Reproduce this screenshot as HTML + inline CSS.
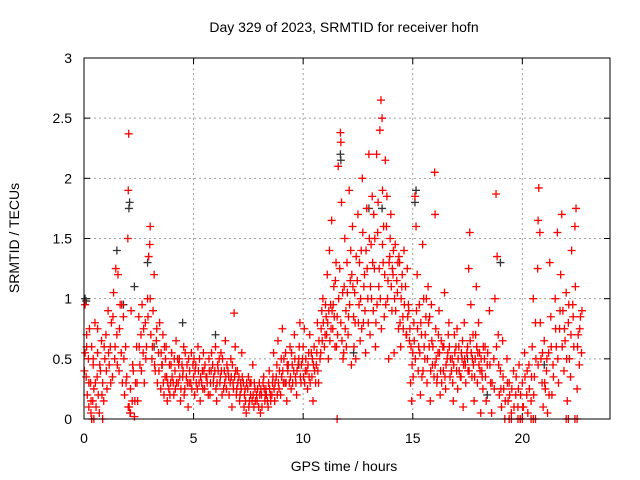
<!DOCTYPE html>
<html><head><meta charset="utf-8"><style>
html,body{margin:0;padding:0;background:#fff;}
svg{display:block;font-family:"Liberation Sans",sans-serif;}
</style></head><body>
<svg id="chart" width="640" height="480" viewBox="0 0 640 480">
<rect x="0" y="0" width="640" height="480" fill="#fff"/>
<text x="344" y="32" font-size="14" text-anchor="middle">Day 329 of 2023, SRMTID for receiver hofn</text>
<text x="344" y="471" font-size="14" text-anchor="middle">GPS time / hours</text>
<text transform="translate(19,238) rotate(-90)" font-size="14" text-anchor="middle">SRMTID / TECUs</text>
<g id="grid"></g>
<g id="axes"></g>
<g id="black-series"></g>
<g id="red-series"></g>
<rect x="84" y="58" width="526" height="361" fill="none" stroke="#000" stroke-width="1"/>
</svg>
<script>
const xTicks=[0,5,10,15,20];
const yTicks=[0,0.5,1,1.5,2,2.5,3];
const yTickLabels=["0","0.5","1","1.5","2","2.5","3"];
const redHours=[0.05,0.05,0.1,0.12,0.15,0.2,0.22,0.25,0.3,0.32,0.35,0.4,0.42,0.45,0.5,0.55,0.6,0.62,0.65,0.7,0.75,0.8,0.85,0.9,0.95,1.0,1.05,1.1,1.15,1.2,1.25,1.3,1.35,1.4,1.45,1.5,1.55,1.6,1.65,1.7,1.75,1.8,1.85,1.9,1.95,2.0,2.02,2.04,2.06,2.1,2.12,2.15,2.2,2.25,2.3,2.35,2.4,2.45,2.5,2.55,2.6,2.65,2.7,2.75,2.8,2.85,2.9,2.95,3.0,3.02,3.05,3.1,3.15,3.2,3.25,3.3,3.35,3.4,3.45,3.5,3.55,3.6,3.65,3.7,3.75,3.8,3.9,3.95,4.0,4.1,4.15,4.2,4.3,4.35,4.4,4.5,4.55,4.6,4.7,4.75,4.8,4.9,5.0,5.05,5.1,5.2,5.25,5.3,5.4,5.45,5.5,5.6,5.7,5.75,5.8,5.9,6.0,6.05,6.1,6.2,6.25,6.3,6.4,6.45,6.5,6.6,6.7,6.75,6.8,6.85,6.9,6.95,7.0,7.1,7.15,7.2,7.3,7.35,7.4,7.5,7.55,7.6,7.7,7.75,7.8,7.9,8.0,8.05,8.1,8.2,8.25,8.3,8.4,8.45,8.5,8.6,8.65,8.7,8.8,8.85,8.9,9.0,9.05,9.1,9.2,9.25,9.3,9.4,9.45,9.5,9.6,9.65,9.7,9.8,9.85,9.9,10.0,10.05,10.1,10.2,10.25,10.3,10.4,10.45,10.5,10.6,10.65,10.7,10.8,10.85,10.9,11.0,11.05,11.1,11.15,11.2,11.25,11.3,11.35,11.4,11.45,11.5,11.55,11.6,11.7,11.72,11.75,11.8,11.85,11.9,11.95,12.0,12.05,12.1,12.15,12.2,12.25,12.3,12.35,12.4,12.5,12.55,12.6,12.65,12.7,12.75,12.8,12.85,12.9,12.95,13.0,13.05,13.1,13.15,13.2,13.25,13.3,13.35,13.4,13.45,13.5,13.55,13.6,13.62,13.65,13.7,13.75,13.8,13.85,13.9,13.95,14.0,14.05,14.1,14.15,14.2,14.3,14.35,14.4,14.45,14.5,14.55,14.6,14.7,14.75,14.8,14.85,14.9,14.95,15.0,15.05,15.1,15.15,15.2,15.25,15.3,15.35,15.4,15.45,15.5,15.55,15.6,15.65,15.7,15.75,15.8,15.85,15.9,16.0,16.02,16.05,16.1,16.15,16.2,16.25,16.3,16.4,16.45,16.5,16.6,16.65,16.7,16.8,16.85,16.9,17.0,17.05,17.1,17.2,17.25,17.3,17.35,17.4,17.5,17.55,17.6,17.65,17.7,17.75,17.8,17.85,17.9,17.95,18.0,18.05,18.1,18.15,18.2,18.3,18.35,18.4,18.5,18.55,18.6,18.7,18.75,18.8,18.85,18.9,18.95,19.0,19.05,19.1,19.15,19.2,19.3,19.35,19.4,19.5,19.6,19.7,19.8,19.85,19.9,20.0,20.05,20.1,20.2,20.25,20.3,20.4,20.45,20.5,20.55,20.6,20.7,20.72,20.75,20.8,20.85,20.9,20.95,21.0,21.05,21.1,21.15,21.2,21.25,21.3,21.35,21.4,21.5,21.55,21.6,21.65,21.7,21.75,21.8,21.85,21.9,21.95,22.0,22.05,22.1,22.15,22.2,22.25,22.3,22.35,22.4,22.45,22.5,22.55,22.6,22.65,22.7,
0.35,0.45,0.85,11.55,19.4,19.5,19.8,19.9,20.0,20.4,20.5,20.6,22.0,22.1,22.4,22.5];
const redValues=[0.95,0.55,0.35,0.7,0.2,0.5,0.1,0.75,0.3,0.05,0.6,0.15,0.45,0.25,0.8,0.1,0.35,0.55,0.2,0.05,0.4,0.65,0.3,0.15,0.5,0.7,0.25,0.9,0.45,0.6,0.8,0.35,1.05,0.5,1.25,0.7,1.2,0.4,0.95,0.55,0.3,0.85,0.2,0.6,0.35,1.5,1.9,2.37,0.1,0.05,0.25,0.9,0.15,0.4,0.02,0.3,0.6,0.15,0.85,0.45,0.7,0.95,0.55,0.3,0.8,0.6,1.0,1.35,1.45,1.6,0.7,0.5,0.9,1.2,0.4,0.65,0.3,0.55,0.8,0.25,0.45,0.7,0.2,0.35,0.6,0.15,0.45,0.3,0.55,0.2,0.4,0.65,0.3,0.5,0.15,0.35,0.6,0.25,0.45,0.1,0.3,0.55,0.35,0.2,0.45,0.6,0.3,0.15,0.4,0.55,0.25,0.35,0.5,0.2,0.4,0.3,0.6,0.15,0.45,0.3,0.55,0.2,0.4,0.65,0.25,0.35,0.5,0.1,0.3,0.88,0.6,0.2,0.4,0.15,0.3,0.55,0.1,0.25,0.05,0.35,0.15,0.2,0.45,0.1,0.25,0.15,0.3,0.05,0.2,0.35,0.15,0.25,0.1,0.4,0.2,0.3,0.55,0.15,0.45,0.65,0.25,0.5,0.75,0.3,0.55,0.15,0.4,0.6,0.25,0.45,0.7,0.35,0.2,0.5,0.8,0.3,0.6,0.75,0.4,0.25,0.55,0.7,0.35,0.15,0.6,0.45,0.8,0.3,0.55,0.9,1.0,0.7,0.85,1.2,0.5,1.4,0.95,1.65,0.75,1.1,0.6,1.3,0.85,2.1,2.38,2.3,1.8,1.05,0.55,1.5,0.9,1.3,0.7,1.9,1.15,0.45,1.6,0.85,1.05,0.5,1.7,0.95,0.65,1.4,2.0,0.8,1.2,0.55,1.75,1.0,2.2,0.7,1.45,1.85,0.9,1.25,0.6,2.2,1.55,1.1,2.4,2.65,2.5,1.9,1.3,0.85,2.15,1.6,1.0,0.5,1.35,1.7,0.9,1.2,0.55,1.45,1.05,0.75,1.3,0.6,1.1,0.85,1.4,0.7,1.25,0.95,0.65,0.3,0.15,0.55,0.8,1.85,1.6,1.2,0.4,0.95,0.2,0.7,1.45,1.0,0.5,0.85,0.3,1.1,0.6,0.15,0.95,0.45,2.05,1.7,0.75,0.3,0.55,0.9,0.2,0.65,0.4,1.05,0.25,0.55,0.8,0.35,0.5,0.15,0.7,0.4,0.25,0.6,0.35,0.5,0.1,0.8,0.45,0.6,1.25,1.55,0.95,0.35,0.7,0.15,0.5,1.1,0.3,0.8,0.55,0.05,0.4,0.25,0.6,0.15,0.45,0.9,0.3,0.05,0.5,1.0,1.87,1.35,0.7,0.2,0.4,0.1,0.65,0.25,0.0,0.5,0.15,0.3,0.05,0.4,0.2,0.1,0.45,0.0,0.3,0.1,0.55,0.2,0.05,0.45,0.15,0.6,1.0,0.35,0.8,1.25,1.65,1.92,1.55,0.5,0.3,0.1,0.65,0.25,0.4,0.05,0.55,1.3,0.85,0.2,0.45,1.0,0.6,1.55,0.3,0.75,1.2,1.7,0.9,0.4,0.65,1.05,0.15,0.8,0.5,0.35,1.4,0.95,0.6,1.6,1.75,0.25,0.7,0.45,0.85,0.55,
0,0,0,0,0,0,0,0,0,0,0,0,0,0,0,0];
const redHours2=[0.02,0.12,0.22,0.32,0.42,0.52,0.62,0.72,0.82,0.92,1.02,1.12,1.22,1.32,1.42,1.52,1.62,1.72,1.82,1.92,2.02,2.12,2.22,2.32,2.42,2.52,2.62,2.72,2.82,2.92,3.02,3.12,3.22,3.32,3.42,3.52,3.62,3.72,3.82,3.92,4.02,4.12,4.22,4.32,4.42,4.52,4.62,4.72,4.82,4.92,5.02,5.12,5.22,5.32,5.42,5.52,5.62,5.72,5.82,5.92,6.02,6.12,6.22,6.32,6.42,6.52,6.62,6.72,6.82,6.92,7.02,7.12,7.22,7.32,7.42,7.52,7.62,7.72,7.82,7.92,8.02,8.12,8.22,8.32,8.42,8.52,8.62,8.72,8.82,8.92,9.02,9.12,9.22,9.32,9.42,9.52,9.62,9.72,9.82,9.92,10.02,10.12,10.22,10.32,10.42,10.52,10.62,10.72,10.82,10.92,11.02,11.12,11.22,11.32,11.42,11.52,11.62,11.72,11.82,11.92,12.02,12.12,12.22,12.32,12.42,12.52,12.62,12.72,12.82,12.92,13.02,13.12,13.22,13.32,13.42,13.52,13.62,13.72,13.82,13.92,14.02,14.12,14.22,14.32,14.42,14.52,14.62,14.72,14.82,14.92,15.02,15.12,15.22,15.32,15.42,15.52,15.62,15.72,15.82,15.92,16.02,16.12,16.22,16.32,16.42,16.52,16.62,16.72,16.82,16.92,17.02,17.12,17.22,17.32,17.42,17.52,17.62,17.72,17.82,17.92,18.02,18.12,18.22,18.32,18.42,18.52,18.62,18.72,18.82,18.92,19.02,19.12,19.22,19.32,19.42,19.52,19.62,19.72,19.82,19.92,20.02,20.12,20.22,20.32,20.42,20.52,20.62,20.72,20.82,20.92,21.02,21.12,21.22,21.32,21.42,21.52,21.62,21.72,21.82,21.92,22.02,22.12,22.22,22.32,22.42,22.52,22.62,22.72];
const redValues2=[0.4,0.6,0.3,0.15,0.5,0.3,0.75,0.45,0.2,0.6,0.4,0.55,0.3,0.85,0.6,0.45,0.75,0.95,0.5,0.3,0.1,0.05,0.45,0.15,0.3,0.6,0.4,0.75,0.5,0.85,1.0,0.6,0.45,0.75,0.4,0.55,0.3,0.5,0.3,0.2,0.35,0.5,0.3,0.45,0.25,0.4,0.55,0.3,0.4,0.25,0.5,0.3,0.4,0.35,0.25,0.45,0.3,0.4,0.55,0.35,0.25,0.4,0.35,0.5,0.3,0.45,0.2,0.35,0.25,0.4,0.3,0.2,0.35,0.2,0.3,0.1,0.3,0.2,0.15,0.25,0.2,0.1,0.25,0.2,0.3,0.15,0.35,0.3,0.2,0.4,0.35,0.5,0.3,0.45,0.35,0.3,0.5,0.4,0.6,0.45,0.35,0.5,0.45,0.3,0.5,0.4,0.55,0.65,0.75,0.8,0.95,0.8,0.65,0.9,0.85,0.6,1.0,0.8,0.5,0.75,1.05,0.95,1.2,0.6,1.35,0.8,1.0,1.55,0.9,1.25,1.5,1.0,1.7,0.8,1.8,1.0,1.45,1.2,1.85,1.3,1.1,1.4,0.9,1.3,0.8,1.2,0.95,0.7,0.9,0.6,0.35,0.5,0.75,0.55,0.35,0.6,1.0,0.8,0.4,0.6,0.45,0.35,0.55,0.3,0.6,0.45,0.7,0.5,0.3,0.55,0.75,0.4,0.55,0.45,0.3,0.4,0.65,0.5,0.35,0.6,0.45,0.5,0.6,0.35,0.55,0.45,0.3,0.25,0.6,0.45,0.25,0.35,0.15,0.3,0.2,0.25,0.1,0.35,0.25,0.2,0.1,0.35,0.4,0.25,0.35,0.2,0.5,0.45,0.8,0.55,0.3,0.5,0.2,0.6,0.35,0.75,0.5,0.9,0.6,0.75,0.5,0.95,0.7,0.85,1.1,0.6,0.75,0.9];
const redHours3=[3.57,3.67,3.77,3.87,3.97,4.07,4.17,4.27,4.37,4.47,4.57,4.67,4.77,4.87,4.97,5.07,5.17,5.27,5.37,5.47,5.57,5.67,5.77,5.87,5.97,6.07,6.17,6.27,6.37,6.47,6.57,6.67,6.77,6.87,6.97,7.07,7.17,7.27,7.37,7.47,7.57,7.67,7.77,7.87,7.97,8.07,8.17,8.27,8.37,8.47,8.57,8.67,8.77,8.87,8.97,9.07,9.17,9.27,9.37,9.47,9.57,9.67,9.77,9.87,9.97,10.07,10.17,10.27,10.37,10.47,10.57,10.67,10.77,10.87,10.97,11.07,11.17,11.27,11.37,11.47,11.57,11.67,11.77,11.87,11.97,12.07,12.17,12.27,12.37,12.47,12.57,12.67,12.77,12.87,12.97,13.07,13.17,13.27,13.37,13.47,13.57,13.67,13.77,13.87,13.97,14.07,14.17,14.27,14.37,14.47,14.57,14.67,14.77,14.87,14.97,15.07,15.17,15.27,15.37,15.47,15.57,15.67,15.77,15.87,15.97,16.07,16.17,16.27,16.37,16.47,16.57,16.67,16.77,16.87,16.97,17.07,17.17,17.27,17.37,17.47,17.57,17.67,17.77,17.87,17.97,18.07,18.17,18.27];
const redValues3=[0.45,0.6,0.35,0.25,0.45,0.3,0.25,0.5,0.35,0.45,0.2,0.35,0.5,0.3,0.45,0.4,0.25,0.5,0.3,0.4,0.35,0.2,0.3,0.45,0.4,0.3,0.5,0.4,0.25,0.35,0.4,0.3,0.45,0.35,0.25,0.35,0.25,0.3,0.15,0.25,0.3,0.15,0.3,0.2,0.1,0.25,0.3,0.2,0.15,0.25,0.2,0.25,0.35,0.3,0.2,0.4,0.3,0.45,0.3,0.55,0.4,0.3,0.45,0.35,0.5,0.3,0.4,0.35,0.55,0.45,0.3,0.4,0.5,0.65,0.6,0.7,0.9,0.75,0.95,1.15,0.7,1.25,0.65,1.1,0.6,0.85,1.4,1.1,0.8,1.15,1.3,0.75,1.1,1.4,0.8,1.1,1.3,1.5,0.95,1.25,0.75,1.6,0.95,1.15,1.5,1.25,1.0,1.15,1.35,1.0,0.75,1.1,0.85,0.75,0.45,0.65,0.9,0.6,0.8,0.4,0.7,0.5,0.85,0.65,0.35,0.5,0.7,0.4,0.6,0.35,0.5,0.6,0.4,0.45,0.6,0.5,0.35,0.65,0.5,0.55,0.4,0.55,0.45,0.7,0.55,0.4,0.35,0.5];
const blackHours=[0.05,0.1,1.5,1.8,2.05,2.08,2.3,2.9,3.2,4.5,6.0,9.8,11.7,11.72,12.3,13.0,13.6,15.1,15.15,17.5,18.4,19.0,21.0];
const blackValues=[1.0,0.98,1.4,0.95,1.75,1.8,1.1,1.3,0.6,0.8,0.7,0.45,2.2,2.15,0.55,1.75,1.75,1.8,1.9,0.5,0.2,1.3,0.45];

const NS='http://www.w3.org/2000/svg';
const X0=84,X1=610,Y0=419,Y1=58;
function xs(t){return X0+(t/24)*(X1-X0);}
function ys(v){return Y0-(v/3)*(Y0-Y1);}
const grid=document.getElementById('grid');
const axes=document.getElementById('axes');
function mk(tag,attrs,parent){const e=document.createElementNS(NS,tag);for(const k in attrs)e.setAttribute(k,attrs[k]);parent.appendChild(e);return e;}
xTicks.forEach(function(t){
  const x=xs(t);
  if(t>0){const g=mk('line',{x1:x,x2:x,y1:Y1,y2:Y0,stroke:'#a0a0a0','stroke-dasharray':'2,3'},grid);
  
  }
  const a=mk('line',{x1:x,x2:x,y1:Y0,y2:Y0-6,stroke:'#000'},axes);
  
  
  const b=mk('line',{x1:x,x2:x,y1:Y1,y2:Y1+6,stroke:'#000'},axes);
  
  
  const tx=mk('text',{x:x,y:443,'font-size':14,'text-anchor':'middle'},axes);
  tx.textContent=String(t);
  
  
});
yTicks.forEach(function(v,i){
  const y=ys(v);
  if(v>0&&v<3){const g=mk('line',{x1:X0,x2:X1,y1:y,y2:y,stroke:'#a0a0a0','stroke-dasharray':'2,3'},grid);
  
  }
  const a=mk('line',{x1:X0,x2:X0+6,y1:y,y2:y,stroke:'#000'},axes);
  
  
  const b=mk('line',{x1:X1,x2:X1-6,y1:y,y2:y,stroke:'#000'},axes);
  
  
  const tx=mk('text',{x:72,y:y+5,'font-size':14,'text-anchor':'end'},axes);
  tx.textContent=yTickLabels[i];
  
  
});
function plus(parent,t,v,color){
  const x=xs(t),y=ys(v);
  const p=mk('path',{d:'M'+(x-4)+' '+y+'h8M'+x+' '+(y-4)+'v8',stroke:color,'stroke-width':1.3,fill:'none'},parent);
  
  
}
const bg=document.getElementById('black-series');
blackHours.forEach(function(t,i){plus(bg,t,blackValues[i],'#333');});
const rg=document.getElementById('red-series');
redHours.forEach(function(t,i){plus(rg,t,redValues[i],'#ff0000');});
redHours2.forEach(function(t,i){plus(rg,t,redValues2[i],'#ff0000');});
redHours3.forEach(function(t,i){plus(rg,t,redValues3[i],'#ff0000');});
</script>
</body></html>
